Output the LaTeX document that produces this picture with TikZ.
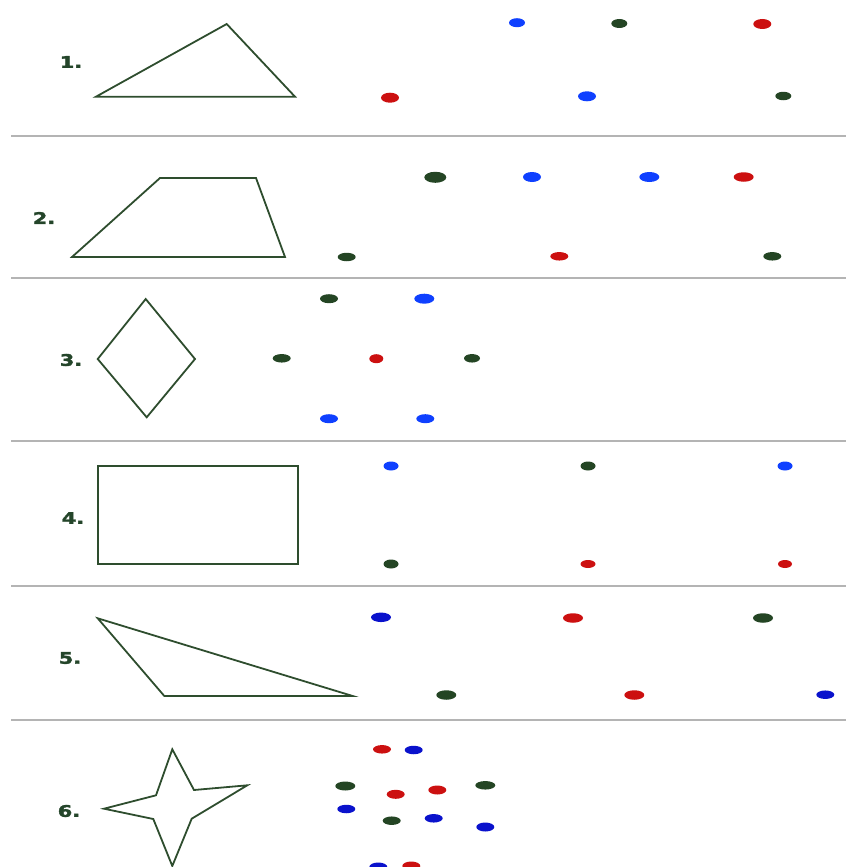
\documentclass[tikz,border=0pt]{standalone}
\usepackage{fontspec}
\newfontfamily\labelfont{DejaVu Sans}[BoldFeatures={FakeBold=2}]
\definecolor{shapegreen}{HTML}{2E4D2E}
\definecolor{labgreen}{HTML}{24452A}
\definecolor{dg}{HTML}{244524}
\definecolor{br}{HTML}{0F40FF}
\definecolor{bd}{HTML}{0A12CC}
\definecolor{rd}{HTML}{CC1010}
\definecolor{sepgray}{HTML}{B4B4B4}
\tikzset{
  shapeline/.style={draw=shapegreen, line width=1.8pt, line join=miter},
  seprule/.style={draw=sepgray, line width=1.5pt},
  numlabel/.style={text=labgreen, font=\labelfont\bfseries\fontsize{16}{16}\selectfont, inner sep=0pt, xscale=1.3}
}
\newcommand{\spot}[5]{\fill[#3] (#1,#2) ellipse ({#4/2} and {#5/2});}
\begin{document}
\begin{tikzpicture}[x=1pt,y=-1pt]
\useasboundingbox (0,0) rectangle (846,867);
% separators
\foreach \yy/\nm in {136/s1,278/s2,441/s3,586/s4,720/s5}{
  \coordinate (\nm a) at (11,\yy);
  \coordinate (\nm b) at (846,\yy);
  \draw[seprule] (\nm a) -- (\nm b);
}
% labels
\node[numlabel] (l1) at (71,62) {1.};
\node[numlabel] (l2) at (44,218) {2.};
\node[numlabel] (l3) at (71,360) {3.};
\node[numlabel] (l4) at (73,518) {4.};
\node[numlabel] (l5) at (70,658) {5.};
\node[numlabel] (l6) at (69,811) {6.};
% shapes
\draw[shapeline] (96,96.7) -- (226.7,24) -- (295,96.7) -- cycle;
\draw[shapeline] (72,257) -- (160,178) -- (256,178) -- (285,257) -- cycle;
\draw[shapeline] (97.7,359) -- (145.7,299) -- (195,359) -- (146.7,417.3) -- cycle;
\draw[shapeline] (98,466) rectangle (298,564);
\draw[shapeline] (97.7,618.3) -- (352.7,696) -- (164.3,696) -- cycle;
\draw[shapeline] (172.3,749.3) -- (194,790) -- (247.3,785.3) -- (191.7,818.7) -- (172.3,866) -- (153.3,819) -- (104,808.7) -- (156,795.3) -- cycle;
% row 1
\spot{517}{22.7}{br}{16}{9}
\spot{619.3}{23.5}{dg}{16}{9}
\spot{762.3}{24}{rd}{18}{10}
\spot{390}{97.7}{rd}{18}{10}
\spot{587}{96.3}{br}{18}{10}
\spot{783.3}{96}{dg}{16}{8.5}
% row 2
\spot{435.3}{177.3}{dg}{22}{11}
\spot{532}{177}{br}{18}{10}
\spot{649.3}{177}{br}{20}{10}
\spot{743.7}{177}{rd}{20}{9.5}
\spot{346.7}{257}{dg}{18}{8.5}
\spot{559.3}{256.3}{rd}{18}{8.5}
\spot{772.3}{256.3}{dg}{18}{8.5}
% row 3
\spot{329}{298.7}{dg}{18}{9}
\spot{424.3}{298.7}{br}{20}{10}
\spot{281.7}{358.3}{dg}{18}{8.5}
\spot{376.3}{358.7}{rd}{14}{9}
\spot{472}{358.3}{dg}{16}{8.5}
\spot{329}{418.7}{br}{18}{9}
\spot{425.3}{418.7}{br}{18}{9}
% row 4
\spot{391}{466}{br}{15}{9}
\spot{588}{466}{dg}{15}{9}
\spot{785}{466}{br}{15}{9}
\spot{391}{564}{dg}{15}{9}
\spot{588}{564}{rd}{15}{8}
\spot{785}{564}{rd}{14}{8}
% row 5
\spot{381}{617.3}{bd}{20}{9.5}
\spot{573}{618}{rd}{20}{9.5}
\spot{763}{618}{dg}{20}{9.5}
\spot{446.3}{695}{dg}{20}{9.5}
\spot{634.3}{695}{rd}{20}{9.5}
\spot{825.3}{694.7}{bd}{18}{8.5}
% row 6
\spot{382}{749.3}{rd}{18}{8.5}
\spot{413.7}{750}{bd}{18}{8.5}
\spot{345.3}{786}{dg}{20}{9}
\spot{395.7}{794.3}{rd}{18}{9}
\spot{437.3}{790}{rd}{18}{9}
\spot{485.3}{785.3}{dg}{20}{8.5}
\spot{346.3}{809}{bd}{18}{8.5}
\spot{391.7}{820.7}{dg}{18}{8.5}
\spot{433.7}{818.3}{bd}{18}{8.5}
\spot{485.3}{827}{bd}{18}{9}
\spot{378.3}{867}{bd}{18}{9}
\spot{411.3}{866}{rd}{18}{9}
\end{tikzpicture}
\end{document}
